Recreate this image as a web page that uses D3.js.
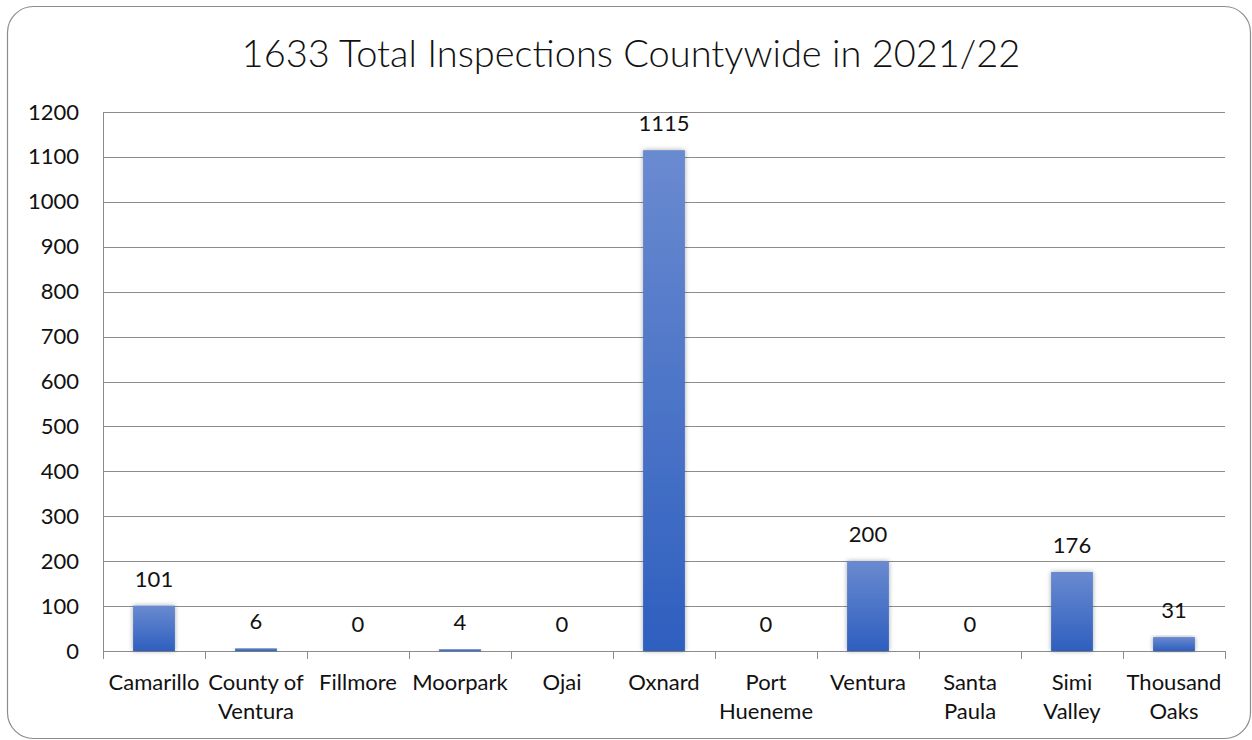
<!DOCTYPE html>
<html lang="en">
<head>
<meta charset="UTF-8">
<script src="https://cdnjs.cloudflare.com/ajax/libs/d3/7.8.5/d3.min.js"></script>
<title>Inspections Countywide</title>
<style>
	html, body { margin: 0; padding: 0; background: #fff; }
	svg { font-family: Lato, "Open Sans", sans-serif; }
</style>
</head>
<body>
<div id="chart"></div>
<script>
	// data
	var cities = [["Camarillo"], ["County of", "Ventura"], ["Fillmore"], ["Moorpark"], ["Ojai"], ["Oxnard"],
		["Port", "Hueneme"], ["Ventura"], ["Santa", "Paula"], ["Simi", "Valley"], ["Thousand", "Oaks"]];
	var inspections = [101, 6, 0, 4, 0, 1115, 0, 200, 0, 176, 31];
	var yTicks = [0, 100, 200, 300, 400, 500, 600, 700, 800, 900, 1000, 1100, 1200];
	var title = "1633 Total Inspections Countywide in 2021/22";

	var W = 1252, H = 740;
	var margin = {top: 112, right: 27, bottom: 89, left: 103};
	var width = W - margin.left - margin.right;
	var height = H - margin.top - margin.bottom;

	var data = cities.map(function(c, i) { return {name: c, key: c.join(" "), value: inspections[i]}; });

	var svg = d3.select("#chart").append("svg")
		.attr("width", W)
		.attr("height", H);

	var defs = svg.append("defs");
	var grad = defs.append("linearGradient")
		.attr("id", "barGrad")
		.attr("x1", 0).attr("y1", 0).attr("x2", 0).attr("y2", 1);
	grad.append("stop").attr("offset", "0%").attr("stop-color", "#6a8ad0");
	grad.append("stop").attr("offset", "100%").attr("stop-color", "#2e5fbf");

	var shadow = defs.append("filter").attr("id", "shadow")
		.attr("x", "-30%").attr("y", "-10%").attr("width", "160%").attr("height", "120%");
	shadow.append("feGaussianBlur").attr("in", "SourceAlpha").attr("stdDeviation", 2.5).attr("result", "blur");
	shadow.append("feComponentTransfer").attr("in", "blur").attr("result", "soft")
		.append("feFuncA").attr("type", "linear").attr("slope", 0.35);
	var merge = shadow.append("feMerge");
	merge.append("feMergeNode").attr("in", "soft");
	merge.append("feMergeNode").attr("in", "SourceGraphic");

	// rounded frame
	svg.append("rect")
		.attr("x", 7.5).attr("y", 6.5)
		.attr("width", W - 9).attr("height", H - 8)
		.attr("rx", 26).attr("ry", 26)
		.attr("fill", "#fff")
		.attr("stroke", "#8c8c8c")
		.attr("stroke-width", 1.2);

	svg.append("text")
		.attr("x", 631)
		.attr("y", 67)
		.attr("text-anchor", "middle")
		.style("font-size", "38px")
		.style("font-weight", 300)
		.style("fill", "#111")
		.text(title);

	var x = d3.scaleBand()
		.domain(data.map(d => d.key))
		.range([0, width])
		.paddingInner(0.59)
		.paddingOuter(0.295);

	var y = d3.scaleLinear()
		.domain([0, 1200])
		.range([height, 0]);

	var g = svg.append("g")
		.attr("transform", "translate(" + margin.left + "," + margin.top + ")");

	// gridlines
	g.append("g")
		.selectAll("line")
		.data(yTicks)
		.enter()
		.append("line")
		.attr("x1", 0).attr("x2", width)
		.attr("y1", d => Math.round(y(d)) + 0.5)
		.attr("y2", d => Math.round(y(d)) + 0.5)
		.attr("stroke", "#8c8c8c")
		.attr("stroke-width", 1);

	// y axis
	var yAxis = g.append("g")
		.call(d3.axisLeft(y).tickValues(yTicks).tickFormat(d3.format("d")).tickSize(0).tickPadding(24));
	yAxis.select(".domain").remove();
	yAxis.selectAll("text")
		.style("font-size", "22px")
		.style("font-family", "Lato, sans-serif")
		.attr("fill", "#111");
	g.append("line")
		.attr("x1", 0.5).attr("x2", 0.5)
		.attr("y1", 0).attr("y2", height + 8)
		.attr("stroke", "#8c8c8c");

	// x axis ticks (between categories)
	var step = x.step();
	g.append("g")
		.selectAll("line")
		.data(d3.range(data.length + 1))
		.enter()
		.append("line")
		.attr("x1", d => Math.round(d * step) + 0.5)
		.attr("x2", d => Math.round(d * step) + 0.5)
		.attr("y1", height)
		.attr("y2", height + 8)
		.attr("stroke", "#8c8c8c");

	// category labels
	var labels = g.append("g").selectAll("text")
		.data(data)
		.enter()
		.append("text")
		.attr("text-anchor", "middle")
		.attr("x", d => x(d.key) + x.bandwidth() / 2)
		.attr("y", height + 39)
		.style("font-size", "22px")
		.style("fill", "#111");
	labels.selectAll("tspan")
		.data(d => d.name.map(n => ({n: n, x: x(d.key) + x.bandwidth() / 2})))
		.enter()
		.append("tspan")
		.attr("x", d => d.x)
		.attr("dy", (d, i) => i === 0 ? 0 : 29)
		.text(d => d.n);

	// bars
	g.append("g")
		.selectAll("rect")
		.data(data.filter(d => d.value > 0))
		.enter()
		.append("rect")
		.attr("x", d => x(d.key))
		.attr("y", d => y(d.value))
		.attr("width", x.bandwidth())
		.attr("height", d => Math.max(2, height - y(d.value)))
		.attr("fill", "url(#barGrad)")
		.attr("filter", "url(#shadow)");

	// value labels
	g.append("g")
		.selectAll("text")
		.data(data)
		.enter()
		.append("text")
		.attr("text-anchor", "middle")
		.attr("x", d => x(d.key) + x.bandwidth() / 2)
		.attr("y", d => y(d.value) - 19)
		.style("font-size", "22px")
		.style("fill", "#111")
		.text(d => d.value);
</script>
</body>
</html>
